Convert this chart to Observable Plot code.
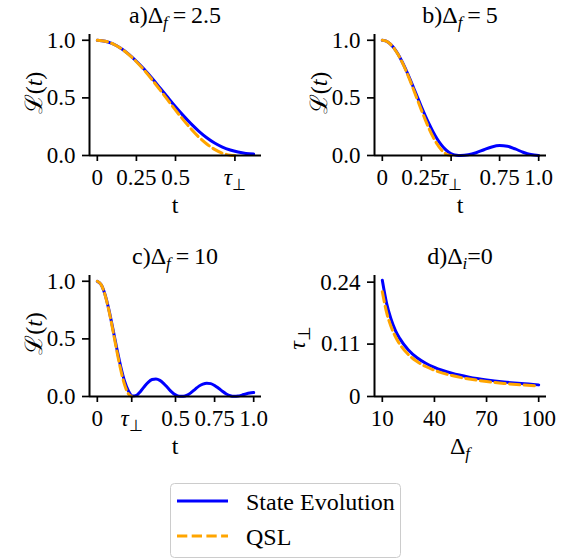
<!DOCTYPE html>
<html><head><meta charset="utf-8">
<script src="https://cdn.jsdelivr.net/npm/d3@7"></script>
<script src="https://cdn.jsdelivr.net/npm/@observablehq/plot@0.6"></script>
<style>
body{margin:0;background:#fff;}
#wrap{position:relative;width:569px;height:559px;font-family:"Liberation Serif",serif;}
#wrap > svg{position:absolute;}
</style></head><body><div id="wrap"></div>
<script>
// ---------- data ----------
const tauA = 0.88, tauB = 0.44, tauC = 0.22;

// panel a: Δf = 2.5
const tEvoA = [0,0.05,0.1,0.15,0.2,0.25,0.3,0.35,0.4,0.45,0.5,0.55,0.6,0.65,0.7,0.75,0.8,0.85,0.9,0.95,1.0];
const evoA  = [1.000,0.992,0.969,0.931,0.880,0.818,0.748,0.670,0.588,0.505,0.423,0.346,0.274,0.210,0.154,0.108,0.073,0.048,0.030,0.018,0.012];
const tQslA = [0,0.05,0.1,0.15,0.2,0.25,0.3,0.35,0.4,0.45,0.5,0.55,0.6,0.65,0.7,0.75,0.8,0.85,0.88];
const qslA  = [1.000,0.992,0.969,0.930,0.878,0.814,0.740,0.658,0.571,0.482,0.394,0.309,0.230,0.159,0.100,0.053,0.020,0.003,0.000];

// panel b: Δf = 5
const tEvoB = [0,0.025,0.05,0.075,0.1,0.125,0.15,0.175,0.2,0.225,0.25,0.275,0.3,0.325,0.35,0.375,0.4,0.425,0.45,0.475,0.5,0.55,0.6,0.65,0.7,0.75,0.8,0.85,0.9,0.95,1.0];
const evoB  = [1.000,0.992,0.969,0.931,0.880,0.818,0.748,0.670,0.588,0.505,0.423,0.345,0.272,0.205,0.146,0.097,0.058,0.029,0.010,0.002,0.000,0.006,0.024,0.050,0.074,0.086,0.080,0.057,0.028,0.008,0.001];
const tQslB = [0,0.025,0.05,0.075,0.1,0.125,0.15,0.175,0.2,0.225,0.25,0.275,0.3,0.325,0.35,0.375,0.4,0.425,0.44];
const qslB  = [1.000,0.992,0.969,0.930,0.878,0.814,0.740,0.658,0.571,0.482,0.394,0.309,0.230,0.159,0.100,0.053,0.020,0.003,0.000];

// panel c: Δf = 10
const tEvoC = [0,0.025,0.05,0.075,0.1,0.125,0.15,0.175,0.2,0.225,0.25,0.275,0.3,0.325,0.35,0.375,0.4,0.425,0.45,0.475,0.5,0.525,0.55,0.575,0.6,0.625,0.65,0.675,0.7,0.725,0.75,0.775,0.8,0.825,0.85,0.875,0.9,0.925,0.95,0.975,1.0];
const evoC  = [1.000,0.970,0.882,0.748,0.585,0.415,0.258,0.130,0.045,0.004,0.010,0.042,0.085,0.123,0.147,0.152,0.140,0.112,0.076,0.040,0.014,0.002,0.002,0.012,0.034,0.062,0.090,0.108,0.116,0.112,0.096,0.072,0.045,0.022,0.007,0.002,0.004,0.012,0.022,0.030,0.034];
const tQslC = [0,0.025,0.05,0.075,0.1,0.125,0.15,0.175,0.2,0.22];
const qslC  = [1.000,0.969,0.878,0.740,0.571,0.394,0.230,0.100,0.020,0.000];

// panel d: Δi = 0, τ⊥ versus Δf
const deltaF  = [10,12.5,15,17.5,20,25,30,35,40,50,60,70,80,90,100];
const tauEvoD = [0.244,0.195,0.163,0.139,0.122,0.0976,0.0813,0.0697,0.061,0.0488,0.0407,0.0349,0.0305,0.0271,0.0244];
const tauQslD = [0.220,0.176,0.147,0.126,0.110,0.088,0.0733,0.0629,0.055,0.044,0.0367,0.0314,0.0275,0.0244,0.022];

// ticks
const xTicksA = [0,0.25,0.5,tauA],      xLabelsA = ["0","0.25","0.5","τ⊥"];
const xTicksB = [0,0.25,tauB,0.75,1],   xLabelsB = ["0","0.25","τ⊥","0.75","1.0"];
const xTicksC = [0,tauC,0.5,0.75,1],    xLabelsC = ["0","τ⊥","0.5","0.75","1.0"];
const xTicksD = [10,40,70,100],         xLabelsD = ["10","40","70","100"];
const yTicksL = [0,0.5,1],              yLabelsL = ["0.0","0.5","1.0"];
const yTicksD = [0,0.11,0.24],          yLabelsD = ["0","0.11","0.24"];

const seriesNames = ["State Evolution","QSL"];
const titles = ["a)", "b)", "c)", "d)"];

// ---------- drawing ----------
const BLUE = "#0000ff", ORANGE = "#ffa500", DASH = "10.3,4.4";
const FONT = "'Liberation Serif', serif";
const FS = 23;
const wrap = document.getElementById("wrap");

function rows(xs, ys){ return xs.map((x,i)=>({x, y: ys[i]})); }

function panel({left, top, width, evo, qsl, xDomain, yDomain, xTicks, xLabels, yTicks, yLabels}) {
  const xMap = new Map(xTicks.map((t,i)=>[t, xLabels[i]]));
  const yMap = new Map(yTicks.map((t,i)=>[t, yLabels[i]]));
  const svg = Plot.plot({
    width, height: 230,
    marginLeft: 89, marginRight: width - 261, marginTop: 34, marginBottom: 75,
    x: {domain: xDomain}, y: {domain: yDomain},
    style: {background: "transparent", fontFamily: FONT, fontSize: FS + "px", color: "black", overflow: "visible"},
    marks: [
      Plot.line(evo, {x: "x", y: "y", stroke: BLUE, strokeWidth: 3, curve: "monotone-x"}),
      Plot.line(qsl, {x: "x", y: "y", stroke: ORANGE, strokeWidth: 3, strokeDasharray: DASH, curve: "monotone-x"}),
      Plot.ruleX([{x: xDomain[0], y1: yDomain[0], y2: yDomain[1]}], {x: "x", y1: "y1", y2: "y2", stroke: "black", strokeWidth: 2}),
      Plot.ruleY([{y: yDomain[0], x1: xDomain[0], x2: xDomain[1]}], {y: "y", x1: "x1", x2: "x2", stroke: "black", strokeWidth: 2}),
      Plot.axisX({ticks: xTicks, tickFormat: d => xMap.get(d), tickSize: 6, tickPadding: 7, fontSize: FS, strokeWidth: 1.7, label: null}),
      Plot.axisY({ticks: yTicks, tickFormat: d => yMap.get(d), tickSize: 7, tickPadding: 7, fontSize: FS, strokeWidth: 1.7, label: null})
    ]
  });
  svg.style.left = left + "px";
  svg.style.top = top + "px";
  // τ⊥ tick labels with subscript
  d3.select(svg).selectAll("text").each(function(){
    if (this.textContent === "τ⊥") {
      const t = d3.select(this);
      t.text(null);
      t.append("tspan").attr("font-style", "italic").text("τ");
      t.append("tspan").attr("dy", "5").attr("font-size", "16").text("⊥");
    }
  });
  wrap.appendChild(svg);
}

const xDomT = [-0.05, 1.05];
panel({left: 0,   top: 0,   width: 285, evo: rows(tEvoA, evoA), qsl: rows(tQslA, qslA), xDomain: xDomT, yDomain: [0, 1.05], xTicks: xTicksA, xLabels: xLabelsA, yTicks: yTicksL, yLabels: yLabelsL});
panel({left: 285, top: 0,   width: 284, evo: rows(tEvoB, evoB), qsl: rows(tQslB, qslB), xDomain: xDomT, yDomain: [0, 1.05], xTicks: xTicksB, xLabels: xLabelsB, yTicks: yTicksL, yLabels: yLabelsL});
panel({left: 0,   top: 240.5, width: 285, evo: rows(tEvoC, evoC), qsl: rows(tQslC, qslC), xDomain: xDomT, yDomain: [0, 1.05], xTicks: xTicksC, xLabels: xLabelsC, yTicks: yTicksL, yLabels: yLabelsL});
panel({left: 285, top: 240.5, width: 284, evo: rows(deltaF, tauEvoD), qsl: rows(deltaF, tauQslD), xDomain: [5.5, 104.5], yDomain: [0, 0.254], xTicks: xTicksD, xLabels: xLabelsD, yTicks: yTicksD, yLabels: yLabelsD});

// ---------- overlay: titles, axis labels, legend ----------
const ov = d3.select(wrap).append("svg")
  .attr("width", 569).attr("height", 559)
  .style("left", "0px").style("top", "0px").style("pointer-events", "none")
  .style("font-family", FONT).attr("font-size", 24).attr("fill", "black");

function title(x, y, prefix, sub, rest) {
  const t = ov.append("text").attr("x", x).attr("y", y).attr("text-anchor", "middle");
  t.append("tspan").text(prefix + "Δ");
  t.append("tspan").attr("font-style", "italic").attr("font-size", 17).attr("dy", 5).text(sub);
  t.append("tspan").attr("dy", -5).text(rest);
}
title(175, 23.3, titles[0], "f", "\u2009=\u20092.5");
title(460, 23.3, titles[1], "f", "\u2009=\u20095");
title(175, 264, titles[2], "f", "\u2009=\u200910");
title(460, 264, titles[3], "i", "=0");

// x labels
[[175, 213], [460, 213], [175, 453.5]].forEach(([x, y]) =>
  ov.append("text").attr("x", x).attr("y", y).attr("text-anchor", "middle").text("t"));
{
  const t = ov.append("text").attr("x", 460).attr("y", 453.5).attr("text-anchor", "middle");
  t.append("tspan").text("Δ");
  t.append("tspan").attr("font-style", "italic").attr("font-size", 17).attr("dy", 5).text("f");
}
// y labels
[[42, 93], [327, 93], [42, 333.5]].forEach(([x, y]) => {
  const t = ov.append("text").attr("transform", `translate(${x},${y}) rotate(-90)`).attr("text-anchor", "middle");
  t.append("tspan").text("ℒ(");
  t.append("tspan").attr("font-style", "italic").text("t");
  t.append("tspan").text(")");
});
{
  const t = ov.append("text").attr("transform", "translate(305,338) rotate(-90)").attr("text-anchor", "middle");
  t.append("tspan").attr("font-style", "italic").text("τ");
  t.append("tspan").attr("font-size", 17).attr("dy", 5).text("⊥");
}

// legend
ov.append("rect").attr("x", 170.5).attr("y", 483.5).attr("width", 230).attr("height", 74).attr("rx", 4)
  .attr("fill", "white").attr("stroke", "#cccccc").attr("stroke-width", 1);
ov.append("line").attr("x1", 177).attr("x2", 228).attr("y1", 501).attr("y2", 501)
  .attr("stroke", BLUE).attr("stroke-width", 3);
ov.append("line").attr("x1", 177).attr("x2", 228).attr("y1", 536).attr("y2", 536)
  .attr("stroke", ORANGE).attr("stroke-width", 3).attr("stroke-dasharray", DASH);
ov.append("text").attr("x", 246).attr("y", 510).text(seriesNames[0]);
ov.append("text").attr("x", 246).attr("y", 545).text(seriesNames[1]);
</script></body></html>
